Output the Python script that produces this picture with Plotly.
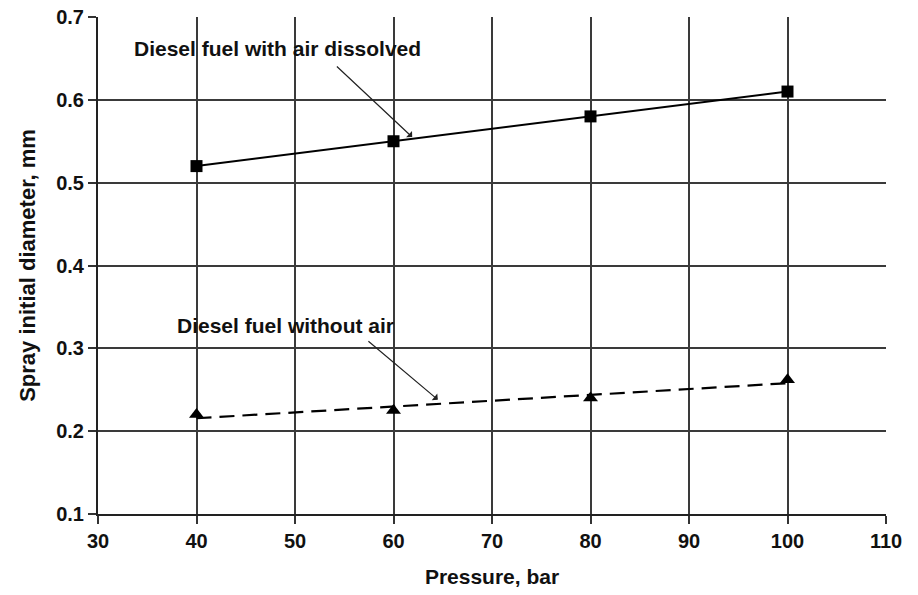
import numpy as np
import plotly.graph_objects as go

pressure = [40, 60, 80, 100]
with_air = [0.52, 0.55, 0.58, 0.61]
without_air = [0.22, 0.225, 0.24, 0.262]
x_ticks = [30, 40, 50, 60, 70, 80, 90, 100, 110]
y_ticks = [0.1, 0.2, 0.3, 0.4, 0.5, 0.6, 0.7]

FONT = "Liberation Sans, Arial, sans-serif"

# linear trend lines (as in spreadsheet trendlines)
p1 = np.polyfit(pressure, with_air, 1)
p2 = np.polyfit(pressure, without_air, 1)
tx = [pressure[0], pressure[-1]]

fig = go.Figure()
fig.add_trace(go.Scatter(x=tx, y=list(np.polyval(p1, tx)), mode="lines",
                         line=dict(color="black", width=2), showlegend=False))
fig.add_trace(go.Scatter(x=pressure, y=with_air, mode="markers",
                         marker=dict(symbol="square", size=12, color="black"), showlegend=False))
fig.add_trace(go.Scatter(x=tx, y=list(np.polyval(p2, tx)), mode="lines",
                         line=dict(color="black", width=2.2, dash="15px,8px"), showlegend=False))
fig.add_trace(go.Scatter(x=pressure, y=without_air, mode="markers",
                         marker=dict(symbol="triangle-up", size=13, color="black"), showlegend=False))

fig.add_annotation(x=61.9, y=0.555, ax=54.1, ay=0.642, xref="x", yref="y", axref="x", ayref="y",
                   showarrow=True, arrowhead=1, arrowsize=1.2, arrowwidth=1.2, arrowcolor="#222", text="")
fig.add_annotation(x=64.5, y=0.238, ax=57.3, ay=0.31, xref="x", yref="y", axref="x", ayref="y",
                   showarrow=True, arrowhead=1, arrowsize=1.2, arrowwidth=1.2, arrowcolor="#222", text="")
fig.add_annotation(x=48.2, y=0.662, xref="x", yref="y", showarrow=False,
                   text="<b>Diesel fuel with air dissolved</b>", font=dict(size=21, color="#111", family=FONT))
fig.add_annotation(x=49.05, y=0.328, xref="x", yref="y", showarrow=False,
                   text="<b>Diesel fuel without air</b>", font=dict(size=21, color="#111", family=FONT))

axis_common = dict(showgrid=True, gridcolor="#3a3a3a", gridwidth=1.5, showline=True,
                   linecolor="#222", linewidth=2, ticks="outside", ticklen=8, tickwidth=1.5,
                   tickcolor="#333", zeroline=False, mirror=False, automargin=False)
fig.update_xaxes(range=[30, 110], tickvals=x_ticks, ticktext=[f"<b>{v}</b>" for v in x_ticks],
                 title=dict(text="<b>Pressure, bar</b>", font=dict(size=21, family=FONT, color="#111"), standoff=18),
                 tickfont=dict(size=20, family=FONT, color="#111"), **axis_common)
fig.update_yaxes(range=[0.1, 0.7], tickvals=y_ticks, ticktext=[f"<b>{v:.1f}</b>" for v in y_ticks],
                 title=dict(text="<b>Spray initial diameter, mm</b>", font=dict(size=22, family=FONT, color="#111"), standoff=14),
                 tickfont=dict(size=20, family=FONT, color="#111"), **axis_common)

fig.update_layout(width=918, height=595, plot_bgcolor="white", paper_bgcolor="white",
                  margin=dict(l=98, r=32, t=17, b=81), font=dict(family=FONT))
fig.write_html("out.html")
